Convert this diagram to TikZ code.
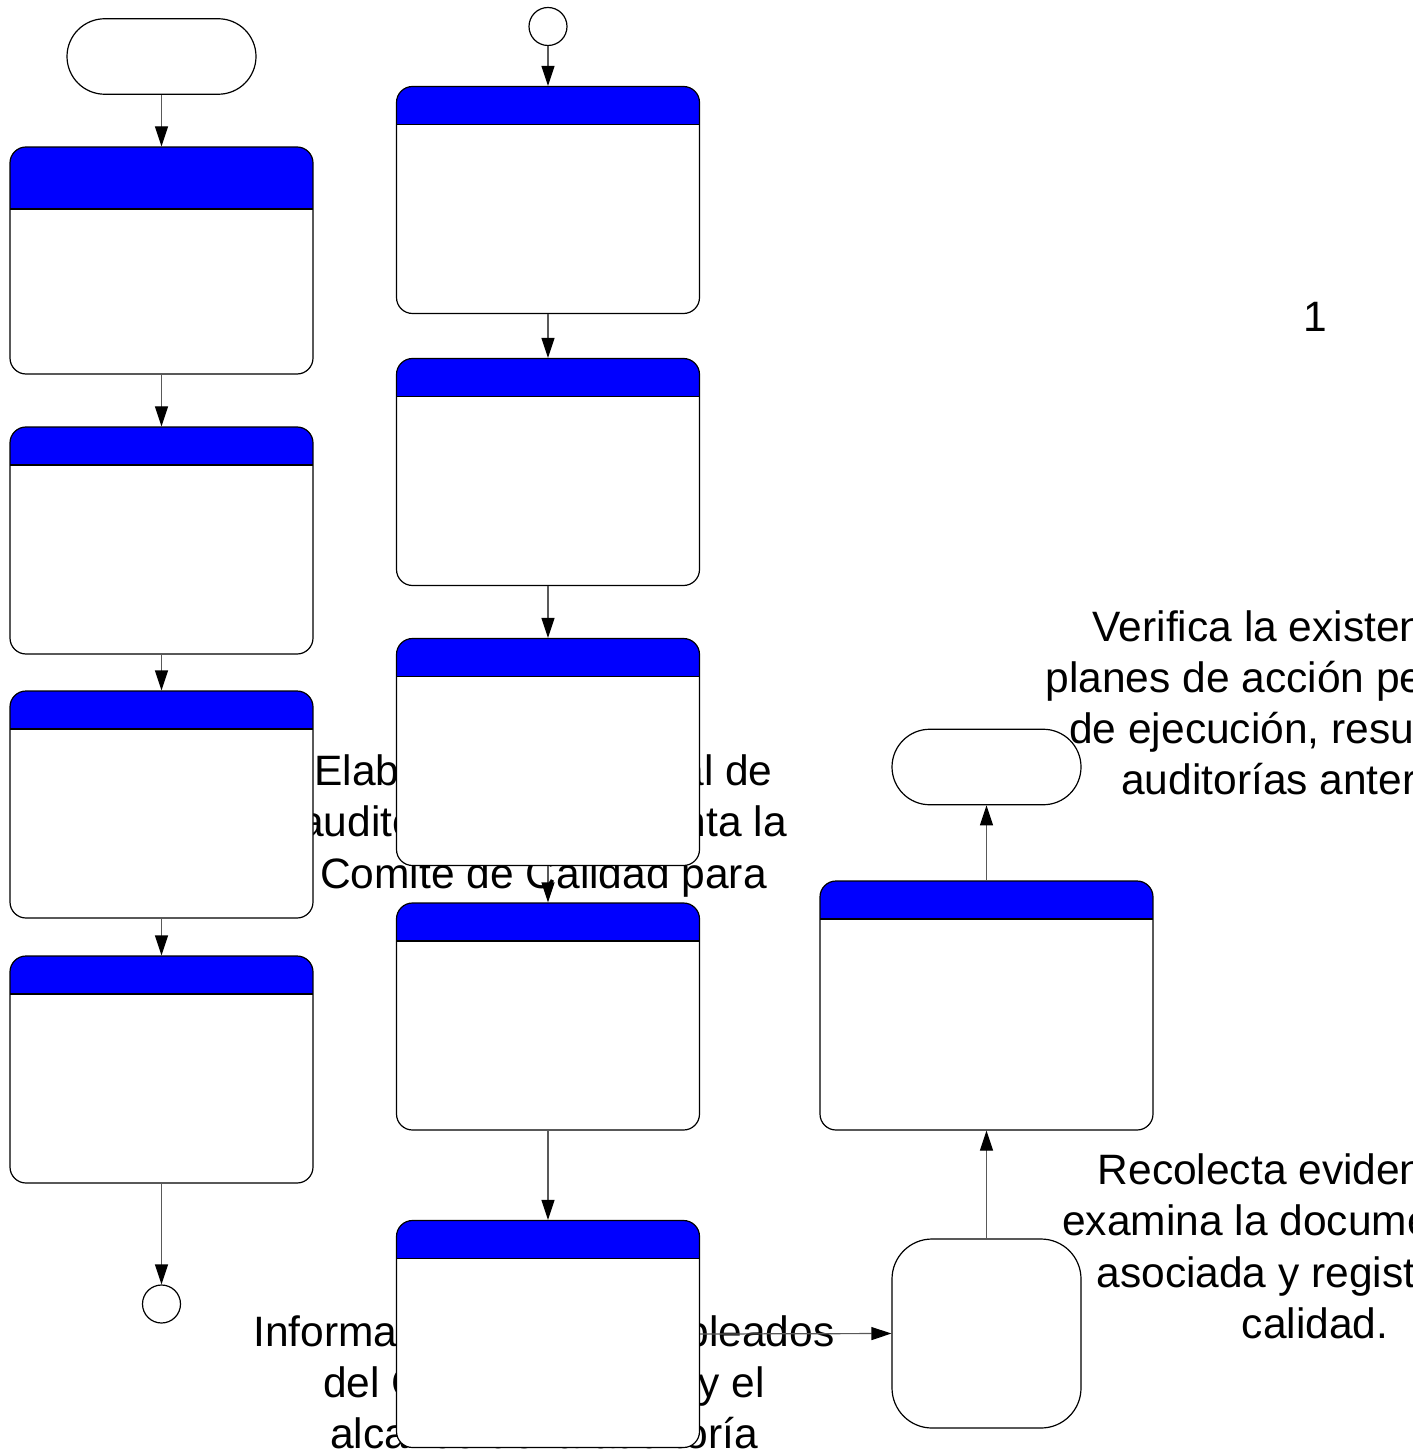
\documentclass[tikz,border=0pt]{standalone}
\usepackage{fontspec}
\setmainfont{Liberation Sans}
\usetikzlibrary{arrows.meta,shapes.misc}
\definecolor{hdrblue}{RGB}{0,0,255}
\begin{document}
\begin{tikzpicture}[x=0.5pt,y=-0.5pt,
  stepbox/.style={draw=black, fill=white, line width=0.6pt, rectangle,
    rounded corners=8pt, inner sep=0pt,
    minimum width=151.5pt, minimum height=113.5pt,
    path picture={
      \fill[hdrblue, sharp corners] (path picture bounding box.north west)
        rectangle ([yshift=-#1]path picture bounding box.north east);
      \draw[line width=0.6pt, sharp corners] ([yshift=-#1]path picture bounding box.north west)
        -- ([yshift=-#1]path picture bounding box.north east);}},
  stepbox/.default=19pt,
  terminal/.style={draw=black, fill=white, line width=0.6pt, rounded rectangle,
    inner sep=0pt, minimum width=94.5pt, minimum height=37.75pt},
  joint/.style={draw=black, fill=white, line width=0.6pt, circle,
    inner sep=0pt, minimum size=19pt},
  bigcorner/.style={draw=black, fill=white, line width=0.6pt, rectangle,
    rounded corners=20pt, inner sep=0pt, minimum size=94.5pt},
  lbl/.style={font=\fontsize{21.25}{25.5}\selectfont, anchor=base, inner sep=0pt},
  flow/.style={draw=black!65, line width=0.6pt,
    -{Triangle[length=10pt,width=6.5pt,color=black]}}
]
\useasboundingbox (0,0) rectangle (1412,1454);

% free-standing labels
\node[lbl] (one) at (1315,332) {1};
\node[lbl] (ta) at (543.5,785) {Elabora el plan anual de};
\node[lbl] (tb) at (543.5,836) {auditorías y lo presenta la};
\node[lbl] (tc) at (543.5,888) {Comite de Calidad para};
\node[lbl] (ua) at (544,1346) {Informa a todos los empleados};
\node[lbl] (ub) at (544,1397) {del Comité la fecha y el};
\node[lbl] (uc) at (544,1448) {alcance de la auditoría};
\node[lbl] (va) at (1315,641) {Verifica la existencia de};
\node[lbl] (vb) at (1315,692) {planes de acción pendientes};
\node[lbl] (vc) at (1315,743) {de ejecución, resultados y};
\node[lbl] (vd) at (1315,794) {auditorías anteriores};
\node[lbl] (wa) at (1315,1184) {Recolecta evidencias y};
\node[lbl] (wb) at (1315,1235) {examina la documentación};
\node[lbl] (wc) at (1315,1287) {asociada y registros de};
\node[lbl] (wd) at (1315,1338) {calidad.};

% left column
\node[terminal] (start) at (161.5,56.5) {};
\node[stepbox=31pt] (l1) at (161.5,260.5) {};
\node[stepbox] (l2) at (161.5,540.5) {};
\node[stepbox] (l3) at (161.5,804.5) {};
\node[stepbox] (l4) at (161.5,1069.5) {};
\node[joint] (lend) at (161.5,1304) {};

% middle column
\node[joint] (mtop) at (548,26.5) {};
\node[stepbox] (m1) at (548,200) {};
\node[stepbox] (m2) at (548,472) {};
\node[stepbox] (m3) at (548,752) {};
\node[stepbox] (m4) at (548,1016.5) {};
\node[stepbox] (m5) at (548,1334) {};

% right column
\node[terminal] (rend) at (986.5,767) {};
\node[stepbox, minimum width=166.5pt, minimum height=124.5pt] (r1) at (986.5,1005.5) {};
\node[bigcorner] (sq) at (986.5,1333.5) {};

% connectors
\draw[flow] (start) -- (l1);
\draw[flow] (l1) -- (l2);
\draw[flow] (l2) -- (l3);
\draw[flow] (l3) -- (l4);
\draw[flow] (l4) -- (lend);
\draw[flow] (mtop) -- (m1);
\draw[flow] (m1) -- (m2);
\draw[flow] (m2) -- (m3);
\draw[flow] (m3) -- (m4);
\draw[flow] (m4) -- (m5);
\draw[flow] (m5.east) -- (sq.west);
\draw[flow] (sq) -- (r1);
\draw[flow] (r1) -- (rend);
\end{tikzpicture}
\end{document}
